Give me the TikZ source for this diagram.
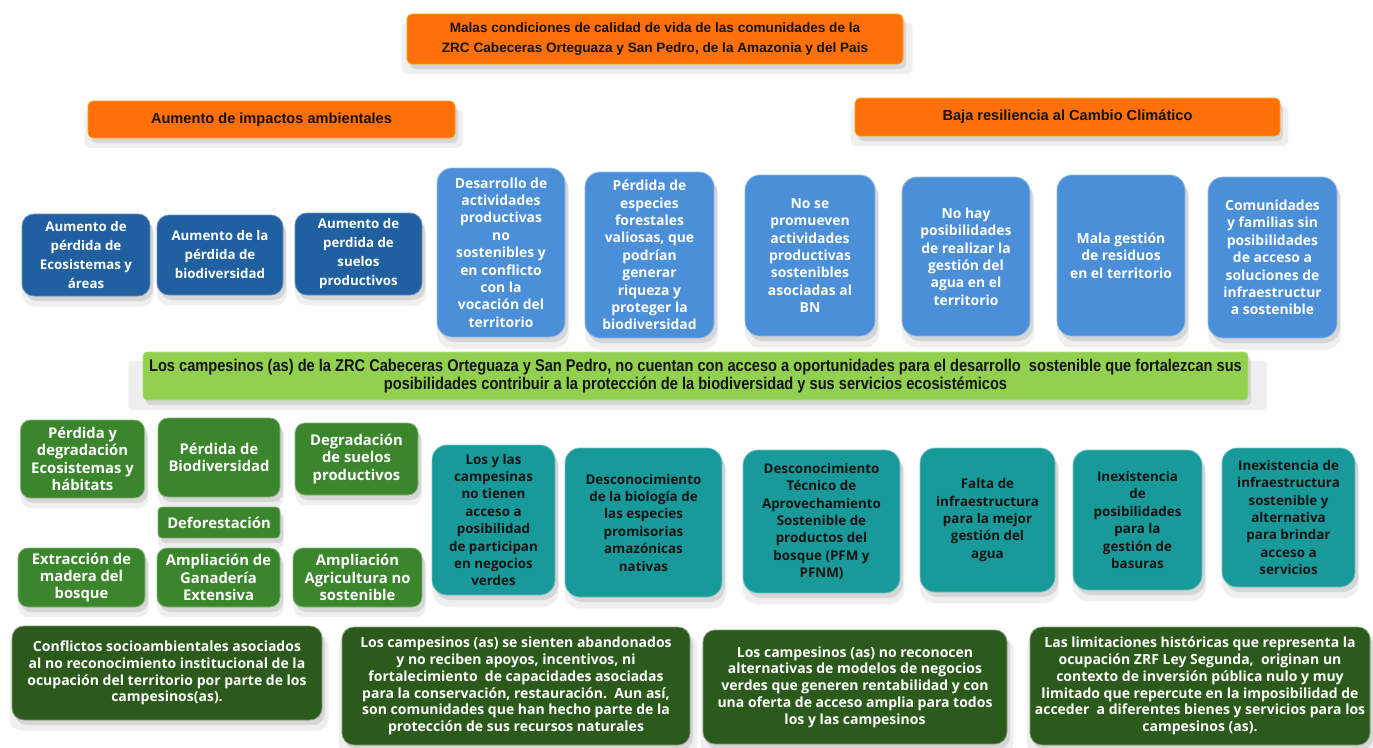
\documentclass[tikz,border=0pt]{standalone}
\usepackage{fontspec}
\setmainfont{Liberation Sans}
\newfontfamily\hdrfont{Liberation Sans}
\newfontfamily\narrowfont{Liberation Sans}[FakeStretch=0.86]
\newfontfamily\boxfont{Open Sans}
\usetikzlibrary{shadows}
\definecolor{orangeA}{HTML}{FF6F0A}
\definecolor{dblue}{HTML}{2060A0}
\definecolor{lblue}{HTML}{4A8FD8}
\definecolor{bgreen}{HTML}{92D050}
\definecolor{mgreen}{HTML}{3B852C}
\definecolor{teal}{HTML}{199A9A}
\definecolor{dgreen}{HTML}{2C5A1C}
\definecolor{darktext}{HTML}{141414}
\tikzset{
  base/.style={inner sep=1pt, align=center, rounded corners=#1,
    general shadow={shadow xshift=2pt, shadow yshift=-9pt, shadow scale=1.03, opacity=0.12, fill=gray},
    drop shadow={shadow xshift=3pt, shadow yshift=-5pt, opacity=0.22, fill=gray}},
  base/.default=10pt,
  orangebox/.style={base=5pt, fill=orangeA, draw=orange!70!yellow, line width=0.6pt,
    text=darktext, font=\hdrfont\bfseries\fontsize{13.6}{20}\selectfont},
  dbluebox/.style={base=12pt, fill=dblue, draw=dblue!70!white, line width=0.8pt,
    text=white, font=\boxfont\bfseries\fontsize{13.3}{19}\selectfont},
  lbluebox/.style={base=15pt, fill=lblue, draw=lblue!60!white, line width=0.8pt,
    text=white, font=\boxfont\bfseries\fontsize{13.9}{17.4}\selectfont},
  bannerbox/.style={base=4pt, fill=bgreen, draw=bgreen!70!white, line width=0.6pt,
    text=darktext, font=\narrowfont\bfseries\fontsize{17}{18.5}\selectfont},
  mgreenbox/.style={base=10pt, fill=mgreen, draw=mgreen!60!white, line width=0.8pt,
    text=white, font=\boxfont\bfseries\fontsize{14.8}{17.3}\selectfont},
  tealbox/.style={base=15pt, fill=teal, draw=teal!60!white, line width=0.8pt,
    text=darktext, font=\boxfont\bfseries\fontsize{13.4}{17.4}\selectfont},
  dgreenbox/.style={base=12pt, fill=dgreen, draw=dgreen!60!white, line width=0.8pt,
    text=white, font=\boxfont\bfseries\fontsize{14}{16.8}\selectfont},
}
\begin{document}
\begin{tikzpicture}[x=1pt, y=-1pt]
\useasboundingbox (0,0) rectangle (1373,747);
\fill[white] (0,0) rectangle (1373,747);

% top effects
\node[orangebox, minimum width=496pt, minimum height=50pt] (top) at (655,39)
  {Malas condiciones de calidad de vida de las comunidades de la\\ZRC Cabeceras Orteguaza y San Pedro, de la Amazonia y del Pais};
\node[orangebox, minimum width=367pt, minimum height=37pt, font=\hdrfont\bfseries\fontsize{14.6}{16}\selectfont] (lefthdr) at (271.5,119.5)
  {Aumento de impactos ambientales};
\node[orangebox, minimum width=425pt, minimum height=38pt, font=\hdrfont\bfseries\fontsize{14.6}{16}\selectfont] (righthdr) at (1067.5,117)
  {Baja resiliencia al Cambio Climático};

% blue row
\node[dbluebox, minimum width=128pt, minimum height=82pt] (b1) at (86,255)
  {Aumento de\\pérdida de\\Ecosistemas y\\áreas};
\node[dbluebox, minimum width=126pt, minimum height=80pt] (b2) at (220,255)
  {Aumento de la\\pérdida de\\biodiversidad};
\node[dbluebox, minimum width=127pt, minimum height=82pt] (b3) at (358.5,254)
  {Aumento de\\perdida de\\suelos\\productivos};

\node[lbluebox, minimum width=128pt, minimum height=169pt] (l1) at (501,252.5)
  {Desarrollo de\\actividades\\productivas\\no\\sostenibles y\\en conflicto\\con la\\vocación del\\territorio};
\node[lbluebox, minimum width=129pt, minimum height=166pt] (l2) at (649.5,255)
  {Pérdida de\\especies\\forestales\\valiosas, que\\podrían\\generar\\riqueza y\\proteger la\\biodiversidad};
\node[lbluebox, minimum width=130pt, minimum height=161pt] (l3) at (810,255.5)
  {No se\\promueven\\actividades\\productivas\\sostenibles\\asociadas al\\BN};
\node[lbluebox, minimum width=128pt, minimum height=159pt] (l4) at (966,256.5)
  {No hay\\posibilidades\\de realizar la\\gestión del\\agua en el\\territorio};
\node[lbluebox, minimum width=128pt, minimum height=161pt] (l5) at (1121,255.5)
  {Mala gestión\\de residuos\\en el territorio};
\node[lbluebox, minimum width=129pt, minimum height=161pt] (l6) at (1272.5,257.5)
  {Comunidades\\y familias sin\\posibilidades\\de acceso a\\soluciones de\\infraestructur\\a sostenible};

% central problem
\node[bannerbox, minimum width=1105pt, minimum height=48pt] (banner) at (695.5,376)
  {Los campesinos (as) de la ZRC Cabeceras Orteguaza y San Pedro, no cuentan con acceso a oportunidades para el desarrollo\ \ sostenible que fortalezcan sus\\posibilidades contribuir a la protección de la biodiversidad y sus servicios ecosistémicos};

% green causes
\node[mgreenbox, minimum width=124pt, minimum height=78pt] (g1) at (82.5,459)
  {Pérdida y\\degradación\\Ecosistemas y\\hábitats};
\node[mgreenbox, minimum width=122pt, minimum height=79pt] (g2) at (219,457.5)
  {Pérdida de\\Biodiversidad};
\node[mgreenbox, minimum width=123pt, minimum height=72pt] (g3) at (356.5,459)
  {Degradación\\de suelos\\productivos};
\node[mgreenbox, minimum width=122pt, minimum height=31pt, rounded corners=4pt] (g4) at (219,522.5)
  {Deforestación};
\node[mgreenbox, minimum width=127pt, minimum height=59pt] (g5) at (81.5,577.5)
  {Extracción de\\madera del\\bosque};
\node[mgreenbox, minimum width=123pt, minimum height=59pt] (g6) at (218.5,577.5)
  {Ampliación de\\Ganadería\\Extensiva};
\node[mgreenbox, minimum width=129pt, minimum height=59pt] (g7) at (357.5,577.5)
  {Ampliación\\Agricultura no\\sostenible};

% teal causes
\node[tealbox, minimum width=123pt, minimum height=150pt] (t1) at (493.5,520)
  {Los y las\\campesinas\\no tienen\\acceso a\\posibilidad\\de participan\\en negocios\\verdes};
\node[tealbox, minimum width=157pt, minimum height=149pt] (t2) at (643.5,522.5)
  {Desconocimiento\\de la biología de\\las especies\\promisorias\\amazónicas\\nativas};
\node[tealbox, minimum width=157pt, minimum height=143pt] (t3) at (821.5,521.5)
  {Desconocimiento\\Técnico de\\Aprovechamiento\\Sostenible de\\productos del\\bosque (PFM y\\PFNM)};
\node[tealbox, minimum width=135pt, minimum height=144pt] (t4) at (987.5,520)
  {Falta de\\infraestructura\\para la mejor\\gestión del\\agua};
\node[tealbox, minimum width=129pt, minimum height=140pt] (t5) at (1137.5,520)
  {Inexistencia\\de\\posibilidades\\para la\\gestión de\\basuras};
\node[tealbox, minimum width=133pt, minimum height=139pt] (t6) at (1288.5,517.5)
  {Inexistencia de\\infraestructura\\sostenible y\\alternativa\\para brindar\\acceso a\\servicios};

% bottom root causes
\node[dgreenbox, minimum width=310pt, minimum height=94pt] (d1) at (167,673)
  {Conflictos socioambientales asociados\\al no reconocimiento institucional de la\\ocupación del territorio por parte de los\\campesinos(as).};
\node[dgreenbox, minimum width=348pt, minimum height=118pt] (d2) at (516,686)
  {Los campesinos (as) se sienten abandonados\\y no reciben apoyos, incentivos, ni\\fortalecimiento\ \ de capacidades asociadas\\para la conservación, restauración.\ \ Aun así,\\son comunidades que han hecho parte de la\\protección de sus recursos naturales};
\node[dgreenbox, minimum width=304pt, minimum height=114pt] (d3) at (855,687)
  {Los campesinos (as) no reconocen\\alternativas de modelos de negocios\\verdes que generen rentabilidad y con\\una oferta de acceso amplia para todos\\los y las campesinos};
\node[dgreenbox, minimum width=340pt, minimum height=118pt] (d4) at (1200,686)
  {Las limitaciones históricas que representa la\\ocupación ZRF Ley Segunda,\ \ originan un\\contexto de inversión pública nulo y muy\\limitado que repercute en la imposibilidad de\\acceder\ \ a diferentes bienes y servicios para los\\campesinos (as).};
\end{tikzpicture}
\end{document}
